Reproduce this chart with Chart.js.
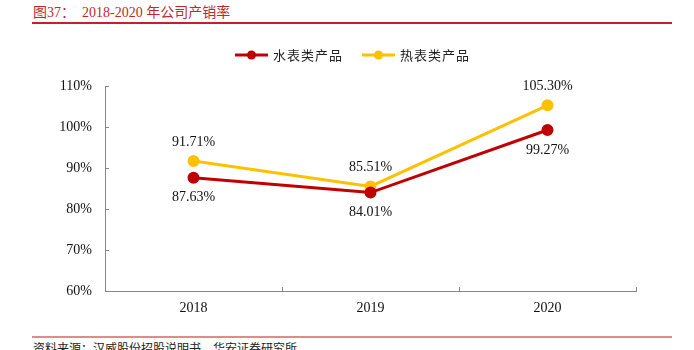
<!DOCTYPE html>
<html>
<head>
<meta charset="utf-8">
<script src="https://cdn.jsdelivr.net/npm/chart.js@4/dist/chart.umd.min.js"></script>
<style>
  body { margin: 0; width: 694px; height: 350px; background: #fff; overflow: hidden; position: relative; }
  .title { position: absolute; left: 33px; top: 1px; font: 14px "Liberation Serif", "Noto Sans CJK SC", serif; color: #c0282d; white-space: pre; }
  .rule { position: absolute; left: 32px; width: 640px; height: 2px; }
  .source { position: absolute; left: 33px; top: 339px; font: 12px "Noto Sans CJK SC", serif; color: #222; }
  #wrap { position: absolute; left: 0; top: 30px; width: 694px; height: 300px; }
</style>
</head>
<body>
<div class="title">图37：  2018-2020 年公司产销率</div>
<div class="rule" style="top:22px;background:#c8202a;"></div>
<div class="rule" style="top:336px;background:#e08a8c;"></div>
<div class="source">资料来源：汉威股份招股说明书，华安证券研究所</div>
<div id="wrap"><canvas id="line-chart" width="694" height="300"></canvas></div>
<script>
const years = ["2018", "2019", "2020"];
const waterMeter = [87.63, 84.01, 99.27];
const heatMeter = [91.71, 85.51, 105.3];
const seriesNames = ["水表类产品", "热表类产品"];
const seriesColors = ["#c00000", "#ffc000"];

const serif = '"Liberation Serif", "Times New Roman", serif';

// legend, value labels and inside tick marks
const decorations = {
  id: "decorations",
  afterDraw(chart) {
    const ctx = chart.ctx;
    const x = chart.scales.x;
    const y = chart.scales.y;
    const area = chart.chartArea;
    ctx.save();

    // tick marks pointing into the plot
    ctx.strokeStyle = "#888";
    ctx.lineWidth = 1;
    y.ticks.forEach((t) => {
      const py = Math.round(y.getPixelForValue(t.value)) + 0.5;
      ctx.beginPath();
      ctx.moveTo(area.left, py);
      ctx.lineTo(area.left + 4, py);
      ctx.stroke();
    });
    const half = (x.getPixelForValue(1) - x.getPixelForValue(0)) / 2;
    for (let i = 1; i <= years.length; i++) {
      const px = Math.round(x.getPixelForValue(i) - half) + 0.5;
      ctx.beginPath();
      ctx.moveTo(px, area.bottom);
      ctx.lineTo(px, area.bottom - 4);
      ctx.stroke();
    }

    // value labels
    ctx.font = "14px " + serif;
    ctx.fillStyle = "#111";
    ctx.textAlign = "center";
    ctx.textBaseline = "middle";
    chart.data.datasets.forEach((ds, di) => {
      const meta = chart.getDatasetMeta(di);
      meta.data.forEach((pt, i) => {
        const dy = di === 1 ? -19 : 20;
        ctx.fillText(ds.data[i].toFixed(2) + "%", pt.x, pt.y + dy);
      });
    });

    // legend
    const ly = 25;
    const starts = [235, 362];
    ctx.font = '13px "Noto Sans CJK SC", serif';
    ctx.letterSpacing = "1px";
    ctx.textAlign = "left";
    chart.data.datasets.forEach((ds, di) => {
      const sx = starts[di];
      ctx.strokeStyle = ds.borderColor;
      ctx.lineWidth = 3;
      ctx.beginPath();
      ctx.moveTo(sx, ly);
      ctx.lineTo(sx + 33, ly);
      ctx.stroke();
      ctx.fillStyle = ds.borderColor;
      ctx.beginPath();
      ctx.arc(sx + 16.5, ly, 4.5, 0, Math.PI * 2);
      ctx.fill();
      ctx.fillStyle = "#222";
      ctx.fillText(ds.label, sx + 38, ly);
    });
    ctx.restore();
  },
};

new Chart(document.getElementById("line-chart").getContext("2d"), {
  type: "line",
  data: {
    labels: years,
    datasets: [
      {
        label: seriesNames[0],
        data: waterMeter,
        borderColor: seriesColors[0],
        backgroundColor: seriesColors[0],
        borderWidth: 3,
        pointRadius: 4.5,
        pointHoverRadius: 4.5,
        tension: 0,
      },
      {
        label: seriesNames[1],
        data: heatMeter,
        borderColor: seriesColors[1],
        backgroundColor: seriesColors[1],
        borderWidth: 3,
        pointRadius: 4.5,
        pointHoverRadius: 4.5,
        tension: 0,
      },
    ],
  },
  options: {
    responsive: false,
    animation: false,
    layout: { padding: { top: 56, right: 58, left: 0, bottom: 0 } },
    plugins: { legend: { display: false }, tooltip: { enabled: false } },
    scales: {
      x: {
        offset: true,
        grid: { display: false, drawTicks: false },
        border: { display: true, color: "#888", width: 1 },
        ticks: { color: "#111", font: { family: serif, size: 14 }, padding: 9 },
        afterFit: (s) => { s.height = 39; },
      },
      y: {
        min: 60,
        max: 110,
        grid: { display: false, drawTicks: false },
        border: { display: true, color: "#888", width: 1 },
        ticks: {
          stepSize: 10,
          color: "#111",
          font: { family: serif, size: 14 },
          padding: 13,
          callback: (v) => v + "%",
        },
        afterFit: (s) => { s.width = 105; },
      },
    },
  },
  plugins: [decorations],
});
</script>
</body>
</html>
